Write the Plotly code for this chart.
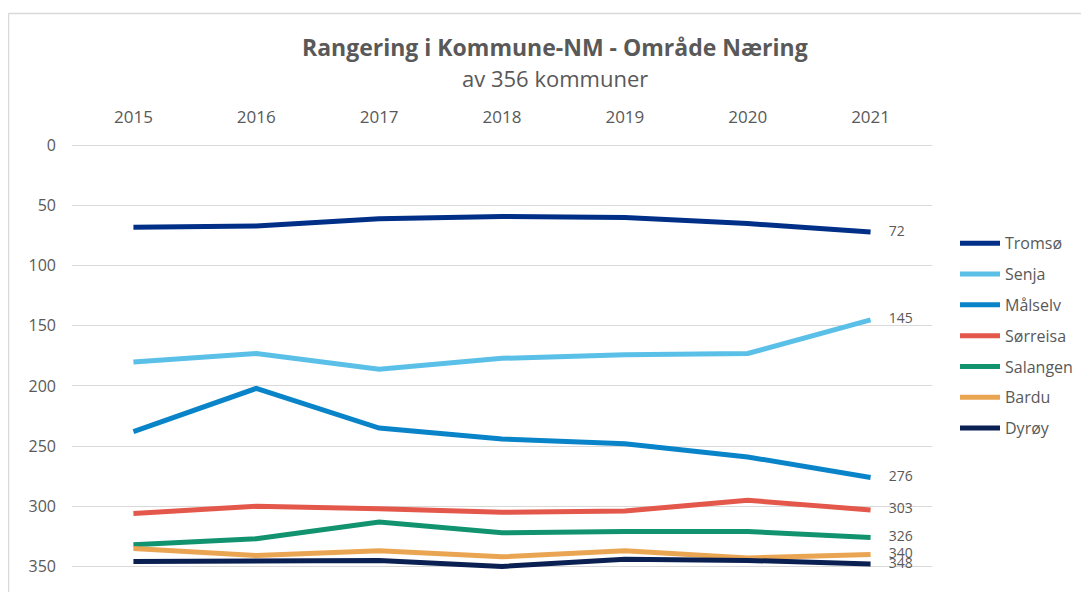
import plotly.graph_objects as go

years = ["2015", "2016", "2017", "2018", "2019", "2020", "2021"]
names = ["Tromsø", "Senja", "Målselv", "Sørreisa", "Salangen", "Bardu", "Dyrøy"]
tromso = [68, 67, 61, 59, 60, 65, 72]
senja = [180, 173, 186, 177, 174, 173, 145]
malselv = [238, 202, 235, 244, 248, 259, 276]
sorreisa = [306, 300, 302, 305, 304, 295, 303]
salangen = [332, 327, 313, 322, 321, 321, 326]
bardu = [335, 341, 337, 342, 337, 343, 340]
dyroy = [346, 346, 345, 350, 344, 345, 348]
series = [tromso, senja, malselv, sorreisa, salangen, bardu, dyroy]
colors = ["#002F87", "#5BC0E8", "#0A84C9", "#E3584B", "#12936F", "#EAA553", "#0A1F52"]

W, H = 1089, 592
OFF = 8  # page body margin offset


def fx(p):  # screen px -> figure px
    return p - OFF


px_per_unit = 1.204
top_val = -2.0
zero_px = fx(145)
T = zero_px + top_val * px_per_unit
L = fx(72)
R = W - fx(932)
B = 0
ph = H - T - B
pw = W - L - R
bottom_val = top_val + ph / px_per_unit

fig = go.Figure()
for i, (n, vals, c) in enumerate(zip(names, series, colors)):
    labels = [""] * (len(vals) - 1) + ["     " + str(vals[-1])]
    fig.add_trace(go.Scatter(
        x=years, y=vals, name=n, mode="lines+text",
        line=dict(color=c, width=5),
        text=labels, textposition="middle right",
        textfont=dict(size=14, color="#595959", family="Open Sans"),
        legendgroup=n, cliponaxis=False,
    ))


def py(p):  # screen y -> paper
    return (H - B - fx(p)) / ph


def pxp(p):  # screen x -> paper
    return (fx(p) - L) / pw


fig.update_layout(
    width=W, height=H,
    margin=dict(l=L, r=R, t=T, b=B, autoexpand=False),
    paper_bgcolor="white", plot_bgcolor="white",
    font=dict(family="Open Sans", color="#595959"),
    showlegend=True,
    legend=dict(x=pxp(955), y=py(226), xanchor="left", yanchor="top",
                font=dict(size=16, color="#595959"), tracegroupgap=7,
                itemwidth=40, bgcolor="rgba(0,0,0,0)"),
    xaxis=dict(type="category", side="top", range=[-0.5, 6.5], showgrid=False,
               showline=False, ticks="", tickfont=dict(size=17, color="#595959"),
               ticklabelstandoff=16, automargin=False),
    yaxis=dict(range=[bottom_val, top_val], tickvals=[0, 50, 100, 150, 200, 250, 300, 350],
               showgrid=True, gridcolor="#D9D9D9", gridwidth=1, zeroline=False,
               tickfont=dict(size=16, color="#595959"), ticks="", ticklabelstandoff=15,
               automargin=False),
    annotations=[
        dict(text="<b>Rangering i Kommune-NM - Område Næring</b>", x=pxp(555),
             y=py(47), xref="paper", yref="paper", showarrow=False,
             font=dict(size=23, color="#595959"), xanchor="center", yanchor="middle"),
        dict(text="av 356 kommuner", x=pxp(555), y=py(78), xref="paper",
             yref="paper", showarrow=False, font=dict(size=22, color="#595959"),
             xanchor="center", yanchor="middle"),
    ],
    shapes=[
        dict(type="line", xref="paper", yref="paper", x0=pxp(8.5), x1=pxp(W + 10),
             y0=py(13), y1=py(13), line=dict(color="#D9D9D9", width=1.5)),
        dict(type="line", xref="paper", yref="paper", x0=pxp(8.5), x1=pxp(8.5),
             y0=py(13), y1=py(H + 20), line=dict(color="#D9D9D9", width=1.5)),
    ],
)

fig.write_html("out.html")
